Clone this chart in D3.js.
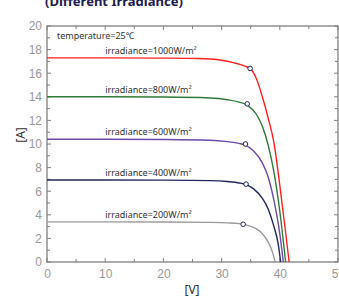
<!DOCTYPE html>
<html>
<head>
<meta charset="utf-8">
<script src="https://cdn.jsdelivr.net/npm/d3@7"></script>
<style>
  body { margin: 0; background: #fff; }
  svg { display: block; font-family: "Noto Sans", "DejaVu Sans", sans-serif; }
</style>
</head>
<body>
<svg id="chart" width="339" height="298"></svg>
<script>
// I-V curves at different irradiance, temperature 25°C

const irradianceLabels = ["irradiance=1000W/m²", "irradiance=800W/m²", "irradiance=600W/m²", "irradiance=400W/m²", "irradiance=200W/m²"];
const curveColors = ["#ff2020", "#2f7a3a", "#6a4aaa", "#22275e", "#9a9a9a"];

// [V, A] points
const curve1000 = [[0, 17.3], [10, 17.3], [20, 17.28], [26, 17.25], [30, 17.1], [32, 16.9], [34, 16.6], [35, 16.35], [36, 15.5], [37, 14.0], [38, 12.2], [39, 10.1], [40, 6.5], [41, 2.5], [41.6, 0]];
const curve800 = [[0, 14.0], [10, 14.0], [20, 13.98], [28, 13.9], [31, 13.75], [33, 13.55], [34.4, 13.3], [36, 12.5], [37, 11.5], [38, 9.9], [39, 7.6], [40, 4.3], [41, 0]];
const curve600 = [[0, 10.4], [10, 10.4], [20, 10.38], [28, 10.32], [31, 10.2], [33, 10.05], [34.1, 9.9], [35.5, 9.4], [37, 8.4], [38, 7.2], [39, 5.2], [40, 2.4], [40.6, 0]];
const curve400 = [[0, 6.95], [10, 6.95], [20, 6.94], [28, 6.9], [31, 6.82], [33, 6.7], [34.2, 6.55], [35.5, 6.2], [37, 5.4], [38, 4.5], [39, 3.0], [39.7, 1.6], [40.15, 0]];
const curve200 = [[0, 3.4], [10, 3.4], [20, 3.39], [28, 3.36], [31, 3.32], [33, 3.25], [34.5, 3.1], [36, 2.8], [37, 2.4], [38, 1.7], [38.7, 0.9], [39.2, 0]];
const curves = [curve1000, curve800, curve600, curve400, curve200];

// maximum power points
const mppPoints = [[34.9, 16.4], [34.4, 13.4], [34.1, 10.0], [34.2, 6.6], [33.7, 3.2]];

const xTicks = [0, 10, 20, 30, 40, 50];
const yTicks = [0, 2, 4, 6, 8, 10, 12, 14, 16, 18, 20];

const svg = d3.select("#chart");
const margin = { left: 47, right: 1, top: 26, bottom: 36 };
const width = 339 - margin.left - margin.right;
const height = 298 - margin.top - margin.bottom;

const x = d3.scaleLinear().domain([0, 50]).range([margin.left, margin.left + width]);
const y = d3.scaleLinear().domain([0, 20]).range([margin.top + height, margin.top]);

// title, cut at the top of the picture
svg.append("text")
    .attr("x", 45)
    .attr("y", 6)
    .attr("font-size", 13)
    .attr("font-weight", "bold")
    .attr("fill", "#1e2050")
    .text("(Different Irradiance)");

// axes with inward ticks on all four sides
const tickColor = "#808080";
const axisBottom = svg.append("g")
    .attr("transform", `translate(0,${y(0)})`)
    .call(d3.axisBottom(x).tickValues(xTicks).tickSize(0).tickPadding(7).tickFormat(d3.format("d")));
const axisLeft = svg.append("g")
    .attr("transform", `translate(${x(0)},0)`)
    .call(d3.axisLeft(y).tickValues(yTicks).tickSize(0).tickPadding(5).tickFormat(d3.format("d")));

[axisBottom, axisLeft].forEach(g => {
    g.select(".domain").remove();
    g.selectAll("text").attr("fill", "#999").attr("font-size", 12);
});

const ticks = svg.append("g").attr("stroke", tickColor).attr("stroke-width", 1);
d3.range(0, 51, 5).forEach(v => {
    const len = v % 10 === 0 ? 4 : 3;
    ticks.append("line").attr("x1", x(v)).attr("x2", x(v)).attr("y1", y(0)).attr("y2", y(0) - len);
    ticks.append("line").attr("x1", x(v)).attr("x2", x(v)).attr("y1", y(20)).attr("y2", y(20) + len);
});
d3.range(0, 21, 1).forEach(v => {
    const len = v % 2 === 0 ? 4 : 3;
    ticks.append("line").attr("x1", x(0)).attr("x2", x(0) + len).attr("y1", y(v)).attr("y2", y(v));
    ticks.append("line").attr("x1", x(50)).attr("x2", x(50) - len).attr("y1", y(v)).attr("y2", y(v));
});

// frame
svg.append("rect")
    .attr("x", x(0))
    .attr("y", y(20))
    .attr("width", x(50) - x(0))
    .attr("height", y(0) - y(20))
    .attr("fill", "none")
    .attr("stroke", tickColor)
    .attr("stroke-width", 1.3);

// curves
const line = d3.line()
    .x(d => x(d[0]))
    .y(d => y(d[1]))
    .curve(d3.curveMonotoneX);

svg.selectAll("path.curve")
    .data(curves)
    .enter()
    .append("path")
    .attr("class", "curve")
    .attr("d", line)
    .attr("fill", "none")
    .attr("stroke", (d, i) => curveColors[i])
    .attr("stroke-width", 1.4);

// curve labels
svg.selectAll("text.irr")
    .data(curves)
    .enter()
    .append("text")
    .attr("class", "irr")
    .attr("x", x(10))
    .attr("y", d => y(d[0][1]) - 4)
    .attr("font-size", 9)
    .attr("fill", "#333")
    .text((d, i) => irradianceLabels[i]);

svg.append("text")
    .attr("x", x(1.7))
    .attr("y", 39)
    .attr("font-size", 9)
    .attr("fill", "#333")
    .text("temperature=25℃");

// maximum power points
svg.selectAll("circle.mpp")
    .data(mppPoints)
    .enter()
    .append("circle")
    .attr("class", "mpp")
    .attr("cx", d => x(d[0]))
    .attr("cy", d => y(d[1]))
    .attr("r", 2.3)
    .attr("fill", "#fff")
    .attr("stroke", "#22275e")
    .attr("stroke-width", 1);

// axis labels
svg.append("text")
    .attr("x", 192)
    .attr("y", 294)
    .attr("text-anchor", "middle")
    .attr("font-size", 12)
    .attr("fill", "#333")
    .text("[V]");

svg.append("text")
    .attr("transform", "translate(25,135) rotate(-90)")
    .attr("text-anchor", "middle")
    .attr("font-size", 12)
    .attr("fill", "#333")
    .text("[A]");
</script>
</body>
</html>
